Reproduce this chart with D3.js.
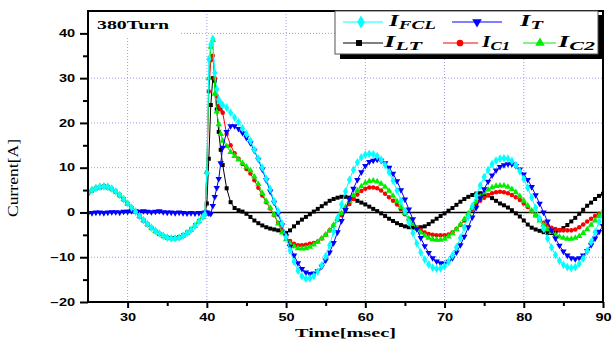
<!DOCTYPE html>
<html>
<head>
<meta charset="utf-8">
<script src="https://cdn.jsdelivr.net/npm/d3@7"></script>
<style>
  body { margin: 0; background: #fff; }
  svg { display: block; }
</style>
</head>
<body>
<svg id="contenedor"></svg>
<script>
// tiempos [msec]: cada 0.5 ms, mas fino alrededor de la falla
let tiempos = d3.range(25, 39.75, 0.5)
  .concat([39.75, 40, 40.25, 40.5, 40.75, 41, 41.25, 41.5, 41.75, 42])
  .concat(d3.range(42.5, 90.25, 0.5));

// corrientes [A]
let iFCL = [
  4.4, 5.0, 5.4, 5.7, 5.8, 5.7, 5.3, 4.7, 3.9, 3.0,
  2.0, 1.1, 0.2, -0.8, -1.7, -2.6, -3.4, -4.1, -4.7, -5.2,
  -5.6, -5.8, -5.8, -5.6, -5.2, -4.6, -3.9, -3.0, -2.0, -1.0,
  -0.4, 8.8, 34.2, 37.5, 38.8, 31.2, 27.5, 25.2, 24.5, 24.0,
  23.4, 22.3, 21.2, 20.2, 18.8, 17.5, 16.0, 14.0, 12.0, 10.0,
  7.5, 5.2, 2.5, 0.3, -2.5, -5.5, -8.5, -11.0, -13.0, -14.3,
  -14.8, -14.7, -14.2, -13.2, -11.8, -9.8, -7.3, -4.3, -1.2, 1.8,
  4.7, 7.3, 9.5, 11.2, 12.3, 12.9, 13.1, 13.0, 12.6, 11.8,
  10.6, 9.0, 7.1, 4.9, 2.6, 0.3, -2.2, -4.6, -6.9, -8.9,
  -10.5, -11.6, -12.3, -12.6, -12.5, -12.0, -11.0, -9.6, -7.8, -5.7,
  -3.4, -1.0, 1.4, 3.8, 6.0, 7.9, 9.5, 10.8, 11.6, 12.0,
  12.1, 12.0, 11.5, 10.6, 9.2, 7.5, 5.5, 3.3, 1.0, -1.3,
  -3.6, -5.8, -7.8, -9.5, -10.8, -11.7, -12.2, -12.4, -12.2, -11.5,
  -10.3, -8.6, -6.6, -4.4, -2.1, 0.2
];

let iT = [
  -0.2, -0.1, 0.0, 0.0, -0.1, 0.0, 0.1, 0.1, 0.0, 0.2,
  0.2, 0.3, 0.3, 0.2, 0.3, 0.2, 0.1, 0.2, 0.3, 0.1,
  0.0, 0.0, -0.1, 0.0, -0.1, -0.2, -0.1, -0.2, -0.1, -0.2,
  0.0, 0.0, -0.2, -0.3, 1.5, 3.5, 5.5, 7.5, 11.0, 14.5,
  18.0, 19.3, 19.3, 18.7, 17.8, 16.7, 15.5, 13.8, 11.8, 9.6,
  7.2, 4.7, 2.2, -0.3, -2.8, -5.3, -7.6, -9.6, -11.3, -12.6,
  -13.4, -13.7, -13.6, -13.1, -12.1, -10.7, -8.9, -6.8, -4.4, -1.9,
  0.6, 3.0, 5.3, 7.3, 9.0, 10.4, 11.3, 11.6, 11.8, 11.6,
  11.0, 10.0, 8.7, 7.0, 5.0, 2.9, 0.7, -1.5, -3.7, -5.7,
  -7.5, -9.0, -10.2, -10.9, -11.3, -11.4, -11.0, -10.2, -8.9, -7.3,
  -5.4, -3.3, -1.1, 1.1, 3.2, 5.2, 6.9, 8.3, 9.4, 10.2,
  10.6, 10.8, 10.8, 10.4, 9.6, 8.5, 7.3, 5.7, 3.9, 2.0,
  0.0, -2.0, -4.0, -5.8, -7.4, -8.7, -9.6, -10.2, -10.4, -10.2,
  -9.6, -8.6, -7.3, -5.8, -4.3, -3.0
];

let iLT = [
  4.3, 4.9, 5.4, 5.6, 5.8, 5.6, 5.2, 4.6, 3.8, 2.9,
  1.9, 1.0, 0.1, -0.9, -1.8, -2.7, -3.5, -4.2, -4.8, -5.3,
  -5.6, -5.7, -5.7, -5.5, -5.1, -4.5, -3.8, -2.9, -1.9, -0.9,
  -0.4, 2.0, 12.0, 24.0, 30.0, 29.4, 23.0, 18.0, 14.0, 10.6,
  5.4, 2.3, 1.0, 0.5, 0.2, -0.3, -1.0, -1.8, -2.4, -2.9,
  -3.3, -3.6, -3.8, -4.0, -4.3, -4.6, -4.0, -3.1, -2.3, -1.6,
  -1.0, -0.4, 0.2, 0.8, 1.4, 2.0, 2.6, 3.0, 3.3, 3.5,
  3.5, 3.3, 3.0, 2.6, 2.2, 1.8, 1.3, 0.8, 0.3, -0.2,
  -0.8, -1.4, -1.9, -2.4, -2.8, -3.1, -3.3, -3.4, -3.4, -3.3,
  -3.1, -2.6, -2.0, -1.4, -0.8, -0.2, 0.4, 1.0, 1.7, 2.4,
  3.0, 3.5, 3.9, 4.2, 4.3, 4.1, 3.8, 3.2, 2.6, 2.0,
  1.6, 1.1, 0.5, -0.2, -0.9, -1.8, -2.7, -3.4, -3.8, -4.1,
  -4.4, -4.6, -4.6, -4.4, -4.0, -3.5, -2.8, -2.0, -1.2, -0.3,
  0.6, 1.5, 2.2, 3.0, 3.7, 4.2
];

let iC1 = [
  4.4, 5.0, 5.5, 5.7, 5.9, 5.7, 5.3, 4.7, 3.9, 3.0,
  2.0, 1.0, 0.2, -0.8, -1.7, -2.6, -3.4, -4.1, -4.7, -5.2,
  -5.6, -5.8, -5.8, -5.6, -5.2, -4.6, -3.9, -3.0, -2.0, -1.0,
  -0.4, 9.0, 27.0, 34.0, 35.0, 30.0, 26.0, 23.8, 23.0, 22.3,
  17.5, 15.0, 13.2, 12.0, 10.8, 9.7, 8.7, 7.2, 5.5, 3.8,
  2.3, 0.9, -0.6, -2.3, -4.0, -5.4, -6.4, -7.0, -7.3, -7.3,
  -7.2, -7.0, -6.8, -6.5, -5.8, -5.0, -4.0, -2.9, -1.7, -0.6,
  0.6, 1.9, 3.0, 4.0, 4.8, 5.3, 5.6, 5.6, 5.4, 4.9,
  4.2, 3.4, 2.6, 1.8, 0.7, -0.4, -1.6, -2.6, -3.4, -4.0,
  -4.5, -4.8, -5.0, -5.1, -5.1, -5.1, -4.9, -4.4, -3.7, -2.8,
  -1.8, -0.6, 0.6, 1.7, 2.6, 3.3, 3.9, 4.3, 4.5, 4.6,
  4.5, 4.3, 3.9, 3.4, 2.8, 2.0, 1.2, 0.3, -0.6, -1.5,
  -2.3, -2.9, -3.4, -3.7, -3.9, -4.0, -4.0, -4.0, -3.8, -3.3,
  -2.7, -2.0, -1.4, -0.8, -0.3, 0.1
];

let iC2 = [
  4.5, 5.1, 5.5, 5.8, 5.9, 5.8, 5.3, 4.7, 3.9, 3.0,
  2.0, 1.1, 0.2, -0.8, -1.7, -2.6, -3.4, -4.1, -4.7, -5.2,
  -5.6, -5.8, -5.8, -5.6, -5.2, -4.6, -3.9, -3.0, -2.0, -1.0,
  -0.4, 9.0, 30.0, 37.0, 38.5, 26.5, 22.5, 19.7, 17.5, 16.0,
  14.8, 13.5, 12.6, 11.8, 11.0, 10.2, 9.4, 8.0, 6.3, 4.3,
  2.5, 1.0, -0.5, -2.5, -4.5, -6.0, -7.0, -7.6, -8.0, -8.1,
  -8.0, -7.7, -7.2, -6.6, -5.8, -5.0, -4.0, -2.8, -1.5, -0.2,
  1.2, 2.6, 3.8, 4.9, 5.8, 6.6, 7.0, 7.1, 6.9, 6.4,
  5.7, 4.8, 3.7, 2.5, 1.2, -0.1, -1.4, -2.6, -3.6, -4.5,
  -5.2, -5.7, -6.0, -6.1, -6.1, -5.9, -5.4, -4.7, -3.8, -2.7,
  -1.5, -0.2, 1.1, 2.4, 3.5, 4.4, 5.1, 5.6, 5.9, 6.0,
  6.0, 5.7, 5.2, 4.5, 3.6, 2.6, 1.5, 0.4, -0.7, -1.8,
  -2.8, -3.7, -4.4, -5.0, -5.4, -5.7, -5.9, -5.9, -5.7, -5.3,
  -4.6, -3.8, -2.8, -1.8, -0.8, 0.2
];

// ticks de los ejes
let ticksX = [30, 40, 50, 60, 70, 80, 90];
let ticksXMenores = [35, 45, 55, 65, 75, 85];
let ticksY = [-20, -10, 0, 10, 20, 30, 40];
let ticksYMenores = [-15, -5, 5, 15, 25, 35];
let gridX = [30, 40, 50, 60, 70, 80];
let gridY = [-10, 10, 20, 30, 40];

// series (orden de dibujo: la ultima queda arriba)
let series = [
  { nombre: "LT", valores: iLT, color: "#000000", simbolo: d3.symbolSquare, tam: 16, giro: 0 },
  { nombre: "C1", valores: iC1, color: "#ff0000", simbolo: d3.symbolCircle, tam: 16, giro: 0 },
  { nombre: "C2", valores: iC2, color: "#00ee00", simbolo: d3.symbolTriangle, tam: 18, giro: 0 },
  { nombre: "T", valores: iT, color: "#0000ff", simbolo: d3.symbolTriangle, tam: 18, giro: 180 },
  { nombre: "FCL", valores: iFCL, color: "#00ffff", simbolo: d3.symbolDiamond, tam: 22, giro: 0 },
];

/* ################### CONFIGURACION ################### */
function getConfig() {
  let width = 612;
  let height = 352;
  let margin = { top: 11, bottom: 50, left: 88, right: 9 };
  let bodyWidth = width - margin.left - margin.right;
  let bodyHeight = height - margin.top - margin.bottom;
  let container = d3.select("#contenedor").attr("width", width).attr("height", height);
  return { width, height, margin, bodyWidth, bodyHeight, container };
} // fin getConfig

function getScales(config) {
  let { margin, bodyWidth, bodyHeight } = config;
  let xScale = d3.scaleLinear().domain([25, 90]).range([margin.left, margin.left + bodyWidth]);
  let yScale = d3.scaleLinear().domain([-20, 45]).range([margin.top + bodyHeight, margin.top]);
  return { xScale, yScale };
} // fin getScales

// estirar texto horizontalmente (la figura original esta estirada)
function estirar(sel, k) {
  sel.each(function () {
    let w = this.getComputedTextLength();
    d3.select(this).attr("textLength", w * k).attr("lengthAdjust", "spacingAndGlyphs");
  });
}

/* ################### GRILLA ################### */
function dibujarGrilla(scales, config) {
  let { xScale, yScale } = scales;
  let { container, margin, bodyHeight, bodyWidth } = config;
  let g = container.append("g");
  g.selectAll(".gx").data(gridX).enter().append("line")
    .attr("x1", d => xScale(d)).attr("x2", d => xScale(d))
    .attr("y1", margin.top).attr("y2", margin.top + bodyHeight)
    .attr("stroke", "#9a9af0").attr("stroke-width", 1).attr("stroke-dasharray", "1,2");
  g.selectAll(".gy").data(gridY).enter().append("line")
    .attr("x1", margin.left).attr("x2", margin.left + bodyWidth)
    .attr("y1", d => yScale(d)).attr("y2", d => yScale(d))
    .attr("stroke", "#9a9af0").attr("stroke-width", 1).attr("stroke-dasharray", "1,2");

  // linea de cero
  container.append("line")
    .attr("x1", margin.left).attr("x2", margin.left + bodyWidth)
    .attr("y1", yScale(0)).attr("y2", yScale(0))
    .attr("stroke", "#000").attr("stroke-width", 1.5);
} // fin dibujarGrilla

/* ################### SERIES ################### */
function dibujarSeries(scales, config) {
  let { xScale, yScale } = scales;
  let { container, margin, bodyWidth, bodyHeight } = config;

  container.append("clipPath").attr("id", "recorte")
    .append("rect")
    .attr("x", margin.left).attr("y", margin.top)
    .attr("width", bodyWidth).attr("height", bodyHeight);

  let body = container.append("g").attr("clip-path", "url(#recorte)");

  let line = d3.line()
    .x((d, i) => xScale(tiempos[i]))
    .y(d => yScale(d));

  series.forEach(s => {
    body.append("path")
      .datum(s.valores)
      .attr("fill", "none")
      .attr("stroke", s.color)
      .attr("stroke-width", 1)
      .attr("d", line);

    let simbolo = d3.symbol().type(s.simbolo).size(s.tam);
    body.selectAll(".m" + s.nombre)
      .data(s.valores)
      .enter()
      .append("path")
      .attr("d", simbolo)
      .attr("transform", (d, i) => `translate(${xScale(tiempos[i])},${yScale(d)}) rotate(${s.giro})`)
      .attr("fill", s.color);
  });
} // fin dibujarSeries

/* ################### EJES ################### */
function dibujarEjes(scales, config) {
  let { xScale, yScale } = scales;
  let { container, margin, bodyHeight, bodyWidth } = config;
  let yBase = margin.top + bodyHeight;

  let ejeX = container.append("g")
    .attr("transform", `translate(0, ${yBase})`)
    .call(d3.axisBottom(xScale).tickValues(ticksX).tickSize(6).tickPadding(6));
  container.append("g")
    .attr("transform", `translate(0, ${yBase})`)
    .call(d3.axisBottom(xScale).tickValues(ticksXMenores).tickSize(4).tickFormat(""));

  let ejeY = container.append("g")
    .attr("transform", `translate(${margin.left}, 0)`)
    .call(d3.axisLeft(yScale).tickValues(ticksY).tickSize(8).tickPadding(5));
  container.append("g")
    .attr("transform", `translate(${margin.left}, 0)`)
    .call(d3.axisLeft(yScale).tickValues(ticksYMenores).tickSize(5).tickFormat(""));

  container.selectAll(".domain").remove();
  container.selectAll(".tick line").attr("stroke", "#000").attr("stroke-width", 2);
  container.selectAll(".tick text")
    .attr("fill", "#000")
    .style("font-family", "Arial, 'Liberation Sans', sans-serif")
    .style("font-size", "10px")
    .style("font-weight", "bold");
  estirar(ejeX.selectAll(".tick text"), 1.45);
  estirar(ejeY.selectAll(".tick text"), 1.45);

  // marco
  container.append("rect")
    .attr("x", margin.left).attr("y", margin.top)
    .attr("width", bodyWidth).attr("height", bodyHeight)
    .attr("fill", "none").attr("stroke", "#000").attr("stroke-width", 2);

  // titulos
  container.append("text")
    .attr("transform", "translate(18, 178) rotate(-90)")
    .attr("text-anchor", "middle")
    .style("font-family", "'Liberation Serif', 'Times New Roman', serif")
    .style("font-size", "14px")
    .attr("textLength", 78).attr("lengthAdjust", "spacingAndGlyphs")
    .text("Current[A]");

  container.append("text")
    .attr("x", 345.5).attr("y", 337)
    .attr("text-anchor", "middle")
    .style("font-family", "'Liberation Serif', 'Times New Roman', serif")
    .style("font-size", "13px")
    .style("font-weight", "bold")
    .attr("textLength", 101).attr("lengthAdjust", "spacingAndGlyphs")
    .text("Time[msec]");

  // etiqueta 380Turn con fondo blanco
  container.append("rect")
    .attr("x", margin.left + 1).attr("y", margin.top + 1)
    .attr("width", 90).attr("height", 26).attr("fill", "#fff");
  container.append("text")
    .attr("x", 97).attr("y", 29)
    .style("font-family", "'Liberation Serif', 'Times New Roman', serif")
    .style("font-size", "13px")
    .style("font-weight", "bold")
    .attr("textLength", 72).attr("lengthAdjust", "spacingAndGlyphs")
    .text("380Turn");
} // fin dibujarEjes

/* ################### LEYENDA ################### */
function dibujarLeyenda(config) {
  let { container } = config;
  let g = container.append("g");
  g.append("rect").attr("x", 340).attr("y", 15).attr("width", 264).attr("height", 44).attr("fill", "#000");
  g.append("rect").attr("x", 335).attr("y", 11).attr("width", 263).attr("height", 43)
    .attr("fill", "#fff").attr("stroke", "#555").attr("stroke-width", 1);

  let items = [
    { s: series[4], x1: 343, x2: 383, xm: 361, y: 22, xt: 389, ancho: 47 },
    { s: series[3], x1: 452, x2: 502, xm: 477, y: 22, xt: 520, ancho: 23 },
    { s: series[0], x1: 343, x2: 383, xm: 359, y: 43, xt: 384, ancho: 38 },
    { s: series[1], x1: 443, x2: 478, xm: 460, y: 43, xt: 482, ancho: 28 },
    { s: series[2], x1: 523, x2: 556, xm: 540, y: 43, xt: 558, ancho: 37 },
  ];

  items.forEach(it => {
    g.append("line")
      .attr("x1", it.x1).attr("x2", it.x2).attr("y1", it.y).attr("y2", it.y)
      .attr("stroke", it.s.color).attr("stroke-width", 1);
    g.append("path")
      .attr("d", d3.symbol().type(it.s.simbolo).size(it.s.tam * 2.2))
      .attr("transform", `translate(${it.xm},${it.y}) rotate(${it.s.giro})`)
      .attr("fill", it.s.color);
    let t = g.append("text")
      .attr("x", it.xt).attr("y", it.y + 3.5)
      .style("font-family", "'Liberation Serif', 'Times New Roman', serif")
      .style("font-style", "italic")
      .style("font-weight", "bold")
      .style("font-size", "17px")
      .attr("textLength", it.ancho).attr("lengthAdjust", "spacingAndGlyphs");
    t.append("tspan").text("I");
    t.append("tspan").attr("dy", 3).style("font-size", "13px").text(it.s.nombre);
  });
} // fin dibujarLeyenda

/* ################### DIBUJAR ################### */
function dibujarChart() {
  let config = getConfig();
  let scales = getScales(config);
  dibujarGrilla(scales, config);
  dibujarSeries(scales, config);
  dibujarEjes(scales, config);
  dibujarLeyenda(config);
} // fin dibujarChart

dibujarChart();
</script>
</body>
</html>
